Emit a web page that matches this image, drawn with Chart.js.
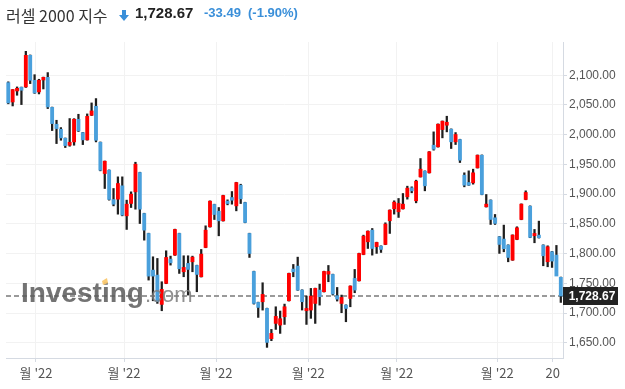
<!DOCTYPE html>
<html>
<head>
<meta charset="utf-8">
<script src="https://cdn.jsdelivr.net/npm/chart.js@4.4.1/dist/chart.umd.min.js"></script>
<style>
  html, body { margin: 0; padding: 0; background: #fff; }
  #wrap { position: relative; width: 625px; height: 389px; overflow: hidden; }
  #chart { position: absolute; left: 0; top: 0; }
  .hd { position: absolute; top: 4px; white-space: nowrap; line-height: 20px; }
</style>
</head>
<body>
<div id="wrap">
  <canvas id="chart" width="625" height="389"></canvas>
  <div class="hd" style="left:6px;top:3px;font:16px 'Noto Sans CJK KR';color:#333">러셀 2000 지수</div>
  <svg style="position:absolute;left:119px;top:10px" width="10" height="11" viewBox="0 0 10 11">
    <path d="M3 0 H7 V5 H10 L5 11 L0 5 H3 Z" fill="#3a8fd9"/>
  </svg>
  <div class="hd" style="left:135px;font:bold 15px 'Liberation Sans',Arial;color:#222">1,728.67</div>
  <div class="hd" style="left:204px;top:5px;font:bold 13px 'Liberation Sans',Arial;color:#3a8fd9">-33.49</div>
  <div class="hd" style="left:248px;top:5px;font:bold 13px 'Liberation Sans',Arial;color:#3a8fd9">(-1.90%)</div>
</div>
<script>
// Russell 2000 daily candles
const openPrices = [
  2087.6, 2055.1, 2073.6, 2079.8, 2080.4, 2133.6, 2091.6, 2072.0, 2092.1, 2096.6,
  2046.0, 2017.6, 2009.2, 1994.1, 1982.3, 1987.9, 2026.0, 2003.6, 1991.3, 2032.7,
  2047.9, 1987.3, 1934.7, 1940.3, 1891.0, 1891.5, 1914.0, 1863.5, 1884.3, 1903.9,
  1936.4, 1867.4, 1833.8, 1772.2, 1763.8, 1714.5, 1749.8, 1790.7, 1797.4, 1833.8,
  1769.4, 1783.4, 1786.2, 1780.0, 1761.0, 1810.3, 1845.0, 1882.6, 1871.3, 1855.1,
  1888.2, 1894.3, 1880.3, 1915.0, 1885.9, 1833.8, 1769.9, 1717.8, 1718.9, 1707.7,
  1656.8, 1682.5, 1679.7, 1693.7, 1720.6, 1773.9, 1778.9, 1738.6, 1703.8, 1705.0,
  1716.1, 1738.6, 1735.8, 1765.4, 1764.9, 1729.1, 1716.1, 1713.3, 1724.5, 1758.2,
  1754.2, 1798.5, 1819.8, 1839.4, 1811.5, 1812.6, 1815.4, 1855.2, 1875.3, 1870.3,
  1875.3, 1895.5, 1910.6, 1888.8, 1929.1, 1938.7, 1935.9, 1982.4, 1979.6, 2008.7,
  2016.0, 2009.3, 1988.0, 1991.9, 1931.9, 1919.6, 1919.0, 1944.3, 1965.5, 1878.7,
  1889.9, 1860.2, 1828.3, 1824.4, 1814.3, 1789.0, 1823.8, 1857.4, 1891.0, 1879.8,
  1830.0, 1831.1, 1814.3, 1786.2, 1803.1, 1797.5, 1760.0
];
const highPrices = [
  2089.0, 2076.0, 2080.4, 2080.2, 2140.3, 2134.2, 2101.0, 2093.3, 2097.0, 2104.5,
  2046.5, 2024.3, 2012.0, 1994.5, 2027.2, 2027.0, 2034.4, 2004.0, 2035.0, 2053.5,
  2060.8, 1987.8, 1955.8, 1940.8, 1909.5, 1929.1, 1929.1, 1889.9, 1903.9, 1953.7,
  1936.9, 1867.9, 1834.3, 1794.6, 1791.8, 1752.6, 1804.7, 1795.7, 1841.1, 1834.3,
  1796.3, 1796.3, 1795.7, 1780.5, 1806.9, 1846.7, 1888.7, 1883.1, 1877.5, 1898.2,
  1890.4, 1904.4, 1920.0, 1916.7, 1886.4, 1834.3, 1770.4, 1718.3, 1750.9, 1708.2,
  1672.4, 1710.5, 1703.3, 1715.0, 1767.1, 1781.7, 1794.0, 1739.1, 1728.5, 1741.4,
  1741.9, 1748.6, 1770.4, 1780.0, 1765.4, 1743.0, 1730.2, 1713.8, 1745.8, 1773.3,
  1800.7, 1831.0, 1838.2, 1842.2, 1819.2, 1813.1, 1851.8, 1873.6, 1888.8, 1892.7,
  1901.1, 1913.4, 1912.3, 1923.5, 1959.9, 1939.2, 1971.7, 2004.8, 2018.2, 2023.2,
  2031.1, 2009.8, 2003.6, 1992.4, 1935.9, 1939.2, 1942.0, 1966.0, 1966.0, 1899.4,
  1890.4, 1865.8, 1828.8, 1847.9, 1814.8, 1831.6, 1845.1, 1883.7, 1905.6, 1880.3,
  1840.6, 1854.6, 1814.8, 1813.1, 1803.6, 1813.7, 1760.5
];
const lowPrices = [
  2052.0, 2048.4, 2066.4, 2050.7, 2079.5, 2086.0, 2069.5, 2068.6, 2077.0, 2044.0,
  2007.0, 1985.1, 1990.7, 1978.4, 1980.6, 1982.3, 2005.3, 1983.4, 1990.8, 2032.2,
  1987.9, 1939.2, 1909.5, 1889.9, 1880.3, 1866.3, 1863.5, 1840.6, 1877.5, 1874.7,
  1850.6, 1822.6, 1755.4, 1720.6, 1716.2, 1703.8, 1749.3, 1780.6, 1796.9, 1766.6,
  1761.0, 1730.2, 1769.4, 1735.8, 1760.5, 1809.8, 1844.5, 1857.3, 1829.9, 1854.6,
  1882.0, 1883.1, 1871.9, 1884.2, 1851.8, 1793.5, 1715.0, 1692.6, 1704.9, 1642.2,
  1653.4, 1672.4, 1665.7, 1680.8, 1720.1, 1761.0, 1738.1, 1705.0, 1680.8, 1691.0,
  1682.5, 1713.3, 1735.3, 1752.6, 1730.2, 1720.1, 1700.5, 1685.3, 1710.5, 1734.1,
  1753.7, 1798.0, 1808.6, 1797.4, 1800.3, 1801.9, 1814.9, 1833.9, 1866.4, 1860.8,
  1874.8, 1891.6, 1902.2, 1885.4, 1928.6, 1905.6, 1935.4, 1974.0, 1979.1, 1994.7,
  2004.8, 1976.8, 1983.5, 1953.2, 1912.3, 1914.6, 1916.8, 1943.8, 1898.9, 1878.2,
  1849.0, 1849.0, 1800.3, 1803.0, 1786.2, 1788.5, 1823.3, 1856.9, 1890.5, 1826.7,
  1818.2, 1826.1, 1779.5, 1777.8, 1776.7, 1764.5, 1717.8
];
const closePrices = [
  2053.5, 2075.9, 2078.1, 2074.8, 2133.6, 2091.6, 2070.3, 2091.6, 2096.6, 2046.7,
  2018.7, 2010.3, 1994.6, 1981.7, 1987.3, 2026.0, 2006.4, 1991.3, 2031.0, 2040.0,
  1990.7, 1940.3, 1955.4, 1891.0, 1883.1, 1917.9, 1864.7, 1883.1, 1900.0, 1950.4,
  1874.7, 1839.4, 1762.1, 1762.1, 1719.0, 1739.7, 1793.5, 1784.5, 1840.6, 1774.4,
  1776.7, 1773.3, 1794.0, 1764.9, 1799.1, 1839.4, 1888.2, 1865.7, 1855.1, 1897.7,
  1884.2, 1889.8, 1919.5, 1892.1, 1852.3, 1800.2, 1716.1, 1709.4, 1731.3, 1650.6,
  1665.7, 1694.3, 1690.4, 1710.5, 1766.6, 1769.4, 1738.6, 1719.0, 1707.7, 1728.5,
  1741.4, 1727.4, 1769.9, 1769.9, 1731.9, 1723.4, 1726.2, 1707.7, 1745.3, 1738.6,
  1800.2, 1829.3, 1837.7, 1808.6, 1818.7, 1807.0, 1849.6, 1873.1, 1886.6, 1884.3,
  1883.2, 1910.1, 1905.6, 1921.8, 1942.0, 1914.0, 1971.2, 1975.6, 2017.7, 2022.7,
  2021.0, 1988.0, 2000.3, 1957.1, 1915.1, 1915.1, 1935.9, 1965.5, 1899.4, 1883.2,
  1857.4, 1850.7, 1815.4, 1808.1, 1793.5, 1831.1, 1843.4, 1883.2, 1902.8, 1827.2,
  1833.9, 1826.6, 1796.3, 1811.5, 1787.4, 1762.2, 1728.67
];

// month boundaries, in candle-index units, and their labels
const monthTickIndex = [6.32, 26.39, 47.37, 68.42, 88.58, 111.52, 124.15];
const monthTickLabels = ["월 '22", "월 '22", "월 '22", "월 '22", "월 '22", "월 '22", "20"];

const priceTicks = [1650, 1700, 1750, 1800, 1850, 1900, 1950, 2000, 2050, 2100];

const upColor = '#ff0000';
const downColor = '#4aa0dc';
const wickColor = '#1e1e1e';

const lastClose = closePrices[closePrices.length - 1];

function fmtPrice(v) {
    return v.toLocaleString('en-US', { minimumFractionDigits: 2, maximumFractionDigits: 2 });
}

// dashed line at the last price and the black price tag on the axis
const lastPricePlugin = {
    id: 'lastPrice',
    beforeDatasetsDraw(chart) {
        const { ctx, chartArea, scales } = chart;
        const py = Math.round(scales.y.getPixelForValue(lastClose));
        ctx.save();
        ctx.strokeStyle = '#9a9a9a';
        ctx.lineWidth = 2;
        ctx.setLineDash([5, 3]);
        ctx.beginPath();
        ctx.moveTo(chartArea.left, py);
        ctx.lineTo(chartArea.right, py);
        ctx.stroke();
        ctx.restore();
    },
    afterDraw(chart) {
        const { ctx, chartArea, scales } = chart;
        const py = Math.round(scales.y.getPixelForValue(lastClose));
        ctx.save();
        ctx.fillStyle = '#222';
        ctx.fillRect(chartArea.right, py - 9, 55, 18);
        ctx.fillStyle = '#fff';
        ctx.font = 'bold 12px "Liberation Sans", Arial';
        ctx.textAlign = 'center';
        ctx.textBaseline = 'middle';
        ctx.fillText(fmtPrice(lastClose), chartArea.right + 29, py + 1);
        ctx.restore();
    }
};

// Investing.com watermark
const watermarkPlugin = {
    id: 'watermark',
    afterDraw(chart) {
        const ctx = chart.ctx;
        ctx.save();
        ctx.textBaseline = 'alphabetic';
        ctx.fillStyle = 'rgba(90, 90, 90, 0.85)';
        ctx.font = 'bold 28px "Liberation Sans", Arial';
        ctx.fillText('Investing', 21, 302);
        const w = ctx.measureText('Investing').width;
        ctx.fillStyle = 'rgba(125, 125, 125, 0.85)';
        ctx.font = '22px "Liberation Sans", Arial';
        ctx.fillText('.com', 21 + w + 1, 302);
        ctx.fillStyle = 'rgba(250, 200, 110, 0.95)';
        ctx.beginPath();
        ctx.moveTo(102, 281);
        ctx.lineTo(107, 278);
        ctx.lineTo(108, 283);
        ctx.lineTo(103, 285);
        ctx.closePath();
        ctx.fill();
        ctx.restore();
    }
};

const ctx = document.getElementById('chart').getContext('2d');

const bodyData = openPrices.map((o, i) => ({ x: i, y: [o, closePrices[i]] }));
const wickData = lowPrices.map((l, i) => ({ x: i, y: [l, highPrices[i]] }));
const bodyColors = openPrices.map((o, i) => closePrices[i] >= o ? upColor : downColor);

const tickFont = { family: '"Liberation Sans", Arial', size: 12 };

new Chart(ctx, {
    type: 'bar',
    data: {
        datasets: [{
            label: 'body',
            data: bodyData,
            backgroundColor: bodyColors,
            barThickness: 3.2,
            minBarLength: 1,
            grouped: false,
            order: 0
        }, {
            label: 'wick',
            data: wickData,
            backgroundColor: wickColor,
            barThickness: 1.6,
            grouped: false,
            order: 1
        }]
    },
    options: {
        responsive: false,
        animation: false,
        layout: {
            padding: { left: 6, top: 42, right: 0, bottom: 0 }
        },
        plugins: {
            legend: { display: false },
            tooltip: { enabled: false }
        },
        scales: {
            x: {
                type: 'linear',
                offset: false,
                min: -0.52,
                max: 126.5,
                afterBuildTicks: function(scale) {
                    scale.ticks = monthTickIndex.map(v => ({ value: v }));
                },
                afterFit: function(scale) {
                    scale.height = 31;
                },
                ticks: {
                    callback: (v, i) => monthTickLabels[i],
                    autoSkip: false,
                    maxRotation: 0,
                    padding: 3,
                    color: '#555',
                    font: { family: '"Noto Sans CJK KR", "Liberation Sans"', size: 13 }
                },
                grid: {
                    offset: false,
                    color: '#f2f2f2',
                    tickColor: '#d5dae2',
                    tickLength: 4
                },
                border: { color: '#d5dae2' }
            },
            y: {
                position: 'right',
                min: 1624.3,
                max: 2156,
                afterBuildTicks: function(scale) {
                    scale.ticks = priceTicks.map(v => ({ value: v }));
                },
                afterFit: function(scale) {
                    scale.width = 62;
                },
                ticks: {
                    callback: v => fmtPrice(v),
                    padding: 2,
                    color: '#555',
                    font: tickFont
                },
                grid: {
                    color: '#f2f2f2',
                    tickColor: '#d5dae2',
                    tickLength: 4
                },
                border: { color: '#d5dae2' }
            }
        }
    },
    plugins: [lastPricePlugin, watermarkPlugin]
});
</script>
</body>
</html>
